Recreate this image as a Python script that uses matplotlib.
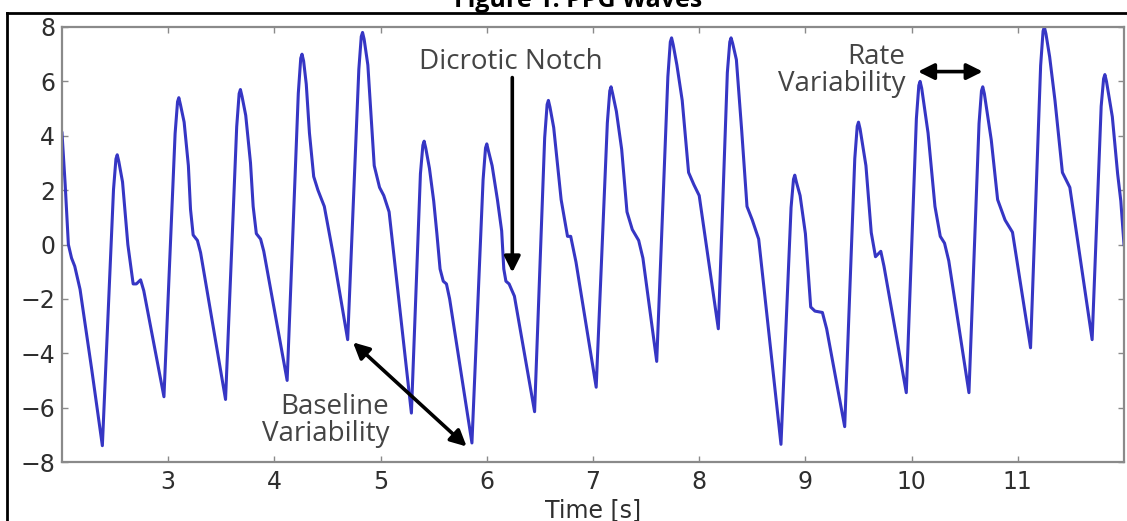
import numpy as np
import matplotlib
matplotlib.use("Agg")
import matplotlib.pyplot as plt
from matplotlib.lines import Line2D

# pulse waveform, one row per beat (time in s, amplitude)
time_s = [
    2.00, 2.03, 2.06, 2.09, 2.12, 2.17, 2.28,
    2.38, 2.485, 2.508, 2.52, 2.535, 2.57, 2.62, 2.67, 2.70, 2.74, 2.77,
    2.96, 3.065, 3.088, 3.10, 3.115, 3.15, 3.19, 3.21, 3.235, 3.275, 3.305,
    3.54, 3.645, 3.668, 3.68, 3.695, 3.73, 3.775, 3.80, 3.83, 3.87, 3.90,
    4.12, 4.225, 4.248, 4.26, 4.275, 4.30, 4.33, 4.37, 4.41, 4.47, 4.56,
    4.69, 4.795, 4.818, 4.83, 4.845, 4.88, 4.94, 4.99, 5.03, 5.08,
    5.29, 5.375, 5.398, 5.41, 5.425, 5.46, 5.50, 5.53, 5.56, 5.59, 5.62, 5.65,
    5.86, 5.965, 5.988, 6.00, 6.015, 6.05, 6.10, 6.14, 6.16, 6.18, 6.21, 6.26,
    6.45, 6.545, 6.568, 6.58, 6.595, 6.63, 6.70, 6.76, 6.79, 6.84,
    7.03, 7.135, 7.158, 7.17, 7.185, 7.22, 7.27, 7.32, 7.37, 7.43, 7.47,
    7.60, 7.705, 7.728, 7.74, 7.755, 7.79, 7.84, 7.90, 7.95, 8.00,
    8.18, 8.265, 8.288, 8.30, 8.315, 8.35, 8.40, 8.45, 8.50, 8.56,
    8.77, 8.865, 8.888, 8.90, 8.915, 8.95, 9.00, 9.05, 9.09, 9.16, 9.20,
    9.37, 9.465, 9.488, 9.50, 9.515, 9.57, 9.62, 9.66, 9.71, 9.74,
    9.95, 10.045, 10.068, 10.08, 10.095, 10.155, 10.22, 10.27, 10.31, 10.35,
    10.54, 10.635, 10.658, 10.67, 10.685, 10.75, 10.81, 10.88, 10.95,
    11.12, 11.215, 11.238, 11.25, 11.265, 11.30, 11.35, 11.42, 11.49,
    11.70, 11.785, 11.808, 11.82, 11.835, 11.89, 11.94, 11.97, 12.00,
]
ppg = [
    4.1, 2.2, 0.0, -0.5, -0.8, -1.65, -4.6,
    -7.4, 2.02, 3.15, 3.3, 3.05, 2.3, 0.0, -1.45, -1.45, -1.3, -1.7,
    -5.6, 4.08, 5.25, 5.4, 5.15, 4.5, 2.9, 1.3, 0.35, 0.15, -0.3,
    -5.7, 4.33, 5.55, 5.7, 5.45, 4.75, 3.0, 1.4, 0.4, 0.2, -0.25,
    -5.0, 5.56, 6.85, 7.0, 6.75, 5.9, 4.1, 2.5, 2.0, 1.4, -0.5,
    -3.5, 6.44, 7.65, 7.8, 7.55, 6.6, 2.9, 2.1, 1.8, 1.2,
    -6.2, 2.6, 3.65, 3.8, 3.55, 2.8, 1.6, 0.4, -0.9, -1.35, -1.45, -2.0,
    -7.3, 2.38, 3.55, 3.7, 3.45, 2.9, 1.65, 0.5, -0.9, -1.35, -1.45, -1.9,
    -6.15, 3.93, 5.15, 5.3, 5.05, 4.3, 1.65, 0.3, 0.3, -0.65,
    -5.25, 4.47, 5.65, 5.8, 5.55, 4.9, 3.5, 1.2, 0.55, 0.15, -0.5,
    -4.3, 6.17, 7.45, 7.6, 7.35, 6.6, 5.3, 2.65, 2.2, 1.8,
    -3.1, 6.32, 7.45, 7.6, 7.4, 6.8, 4.2, 1.4, 0.9, 0.2,
    -7.35, 1.36, 2.4, 2.55, 2.3, 1.8, 0.4, -2.3, -2.45, -2.5, -3.1,
    -6.7, 3.16, 4.35, 4.5, 4.25, 2.9, 0.44, -0.45, -0.25, -0.8,
    -5.45, 4.63, 5.85, 6.0, 5.75, 4.1, 1.4, 0.3, 0.05, -0.6,
    -5.45, 4.45, 5.65, 5.8, 5.55, 3.85, 1.65, 0.9, 0.45,
    -3.8, 6.58, 7.85, 8.0, 7.75, 6.9, 5.3, 2.65, 2.1,
    -3.5, 5.08, 6.1, 6.25, 6.0, 4.7, 2.6, 1.6, 0.0,
]
x_ticks = [3, 4, 5, 6, 7, 8, 9, 10, 11]
y_ticks = [-8, -6, -4, -2, 0, 2, 4, 6, 8]

W, H = 1127, 521
fig = plt.figure(figsize=(W / 100, H / 100), dpi=100)
ax = fig.add_axes([62 / W, 1 - 462 / H, (1124 - 62) / W, (462 - 27) / H])

ax.plot(np.array(time_s), np.array(ppg), color="#3636c4", lw=2.2)

ax.set_xlim(2, 12)
ax.set_ylim(-8, 8)
ax.set_xticks(x_ticks)
ax.set_yticks(y_ticks)
ax.tick_params(direction="in", length=4, width=1, top=True, right=True,
               color="#8a8a8a", labelcolor="#2e2e2e", labelsize=17)
ax.tick_params(axis="x", pad=6)
ax.tick_params(axis="y", pad=5)
for sp in ax.spines.values():
    sp.set_color("#8a8a8a")
    sp.set_linewidth(1.6)
ax.set_xlabel("Time [s]", fontsize=17, color="#2e2e2e", labelpad=3)

txt = dict(family="Open Sans", fontsize=20, color="#444444")
arr = dict(color="black", lw=2.6, mutation_scale=24)

# dicrotic notch marker
ax.text(6.23, 6.7, "Dicrotic Notch", ha="center", va="center", **txt)
ax.annotate("", xy=(6.24, -1.03), xytext=(6.24, 6.14),
            arrowprops=dict(arrowstyle="-|>", shrinkA=0, shrinkB=0, **arr))

# rate variability
ax.text(9.94, 6.4, "Rate\nVariability", ha="right", va="center",
        multialignment="right", linespacing=0.95, **txt)
ax.annotate("", xy=(10.06, 6.36), xytext=(10.67, 6.36),
            arrowprops=dict(arrowstyle="<|-|>", shrinkA=0, shrinkB=0, **arr))

# baseline variability
ax.text(5.08, -6.47, "Baseline\nVariability", ha="right", va="center",
        multialignment="right", linespacing=0.95, **txt)
ax.annotate("", xy=(4.74, -3.6), xytext=(5.81, -7.43),
            arrowprops=dict(arrowstyle="<|-|>", shrinkA=0, shrinkB=0, **arr))

# caption frame and title
fig.add_artist(Line2D([7 / W, 1], [1 - 13 / H, 1 - 13 / H],
                      transform=fig.transFigure, color="black", lw=2))
fig.add_artist(Line2D([7 / W, 7 / W], [0, 1 - 13 / H],
                      transform=fig.transFigure, color="black", lw=2))
fig.text(578 / W, 1 - 7 / H, "Figure 1: PPG Waves", ha="center",
         va="baseline", family="Open Sans", fontweight="bold", fontsize=18)

fig.savefig("out.png", dpi=100)
